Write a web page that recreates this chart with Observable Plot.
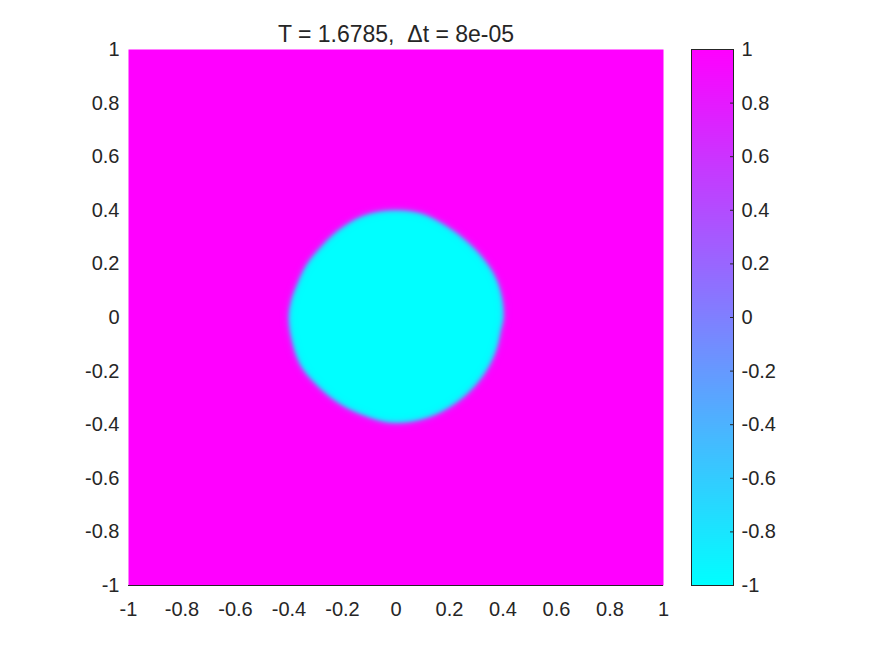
<!DOCTYPE html>
<html>
<head>
<meta charset="utf-8">
<script src="https://cdn.jsdelivr.net/npm/d3@7"></script>
<script src="https://cdn.jsdelivr.net/npm/@observablehq/plot@0.6"></script>
<style>
  html, body { margin: 0; padding: 0; background: #fff; }
  #wrap { position: relative; width: 875px; height: 656px; background: #fff; overflow: hidden; }
  #wrap svg { position: absolute; top: 0; }
</style>
</head>
<body>
<div id="wrap"></div>
<script>
// ---- data ----
const titleText = "T = 1.6785,  \u0394t = 8e-05";
const axisTicks = [-1, -0.8, -0.6, -0.4, -0.2, 0, 0.2, 0.4, 0.6, 0.8, 1];
const colorDomain = [-1, 1];
const colorRange = ["#00ffff", "#ff00ff"]; // MATLAB "cool"
// interface (u = 0 contour) of the cyan region: polar angle (deg) and radius
const boundaryAngle = [0, 11, 22, 35, 48, 62, 76, 90, 107, 122, 137, 149, 161, 173, 180,
                       193, 207, 221, 235, 252, 267, 288, 303, 317, 329, 341, 352];
const boundaryRadius = [0.402, 0.403, 0.401, 0.393, 0.388, 0.390, 0.399, 0.400, 0.399, 0.391, 0.385, 0.388, 0.390, 0.398, 0.401,
                        0.399, 0.399, 0.389, 0.385, 0.385, 0.393, 0.392, 0.390, 0.390, 0.392, 0.394, 0.395];
const interfaceWidth = 0.011; // diffuse interface thickness
const insideValue = -1, outsideValue = 1;

// ---- field sampled from the traced interface (smooth periodic curve through the traced points) ----
function radiusAt(theta) {
  const n = boundaryAngle.length;
  const A = i => boundaryAngle[((i % n) + n) % n] + 360 * Math.floor(i / n);
  const R = i => boundaryRadius[((i % n) + n) % n];
  let i = n - 1;
  for (let k = 0; k < n; k++) {
    if (theta >= boundaryAngle[k] && theta < A(k + 1)) { i = k; break; }
  }
  const a0 = A(i), a1 = A(i + 1);
  const t = (theta - a0) / (a1 - a0);
  const p0 = R(i - 1), p1 = R(i), p2 = R(i + 1), p3 = R(i + 2);
  // Catmull-Rom
  const t2 = t * t, t3 = t2 * t;
  return 0.5 * ((2 * p1) + (-p0 + p2) * t + (2 * p0 - 5 * p1 + 4 * p2 - p3) * t2 + (-p0 + 3 * p1 - 3 * p2 + p3) * t3);
}
function field(x, y) {
  const r = Math.hypot(x, y);
  let th = Math.atan2(y, x) * 180 / Math.PI;
  if (th < 0) th += 360;
  const Rb = radiusAt(th);
  const s = Math.tanh((r - Rb) / interfaceWidth);
  return (outsideValue + insideValue) / 2 + s * (outsideValue - insideValue) / 2;
}

const fmt = d => String(d);
const font = "'Liberation Sans', Arial, Helvetica, sans-serif";
const ink = "#262626";

const colorOpts = { type: "linear", domain: colorDomain, range: colorRange, interpolate: "rgb" };

// ---- main map ----
const main = Plot.plot({
  width: 680,
  height: 620,
  marginLeft: 128,
  marginRight: 17,
  marginTop: 49,
  marginBottom: 35,
  style: { fontFamily: font, fontSize: "20px", color: ink, background: "transparent", overflow: "visible" },
  x: { domain: [-1, 1], ticks: axisTicks, tickFormat: fmt, tickSize: 0, tickPadding: 16, label: null },
  y: { domain: [-1, 1], ticks: axisTicks, tickFormat: fmt, tickSize: 0, tickPadding: 9, label: null },
  color: colorOpts,
  marks: [
    Plot.raster({ x1: -1, x2: 1, y1: -1, y2: 1, width: 535, height: 536, fill: (x, y) => field(x, y) }),
    Plot.ruleY([-1], { stroke: ink, strokeWidth: 1 })
  ]
});
main.style.left = "0px";
d3.select(main).append("text")
  .attr("x", 396).attr("y", 41.5)
  .attr("text-anchor", "middle")
  .attr("fill", ink)
  .style("font-size", "23px")
  .style("white-space", "pre")
  .attr("xml:space", "preserve")
  .text(titleText);

// ---- colorbar ----
const bar = Plot.plot({
  width: 215,
  height: 620,
  marginLeft: 31,
  marginRight: 142,
  marginTop: 49,
  marginBottom: 35,
  style: { fontFamily: font, fontSize: "20px", color: ink, background: "transparent", overflow: "visible" },
  x: { domain: [0, 1], axis: null },
  y: { domain: colorDomain, label: null },
  color: colorOpts,
  marks: [
    Plot.raster({ x1: 0, x2: 1, y1: colorDomain[0], y2: colorDomain[1], width: 1, height: 512, fill: (x, y) => y }),
    Plot.axisY(axisTicks, { anchor: "right", tickFormat: fmt, tickSize: -4, tickPadding: 12, stroke: ink, label: null }),
    Plot.frame({ stroke: ink, strokeWidth: 1 })
  ]
});
bar.style.left = "660px";

const wrap = document.getElementById("wrap");
wrap.appendChild(main);
wrap.appendChild(bar);
</script>
</body>
</html>
